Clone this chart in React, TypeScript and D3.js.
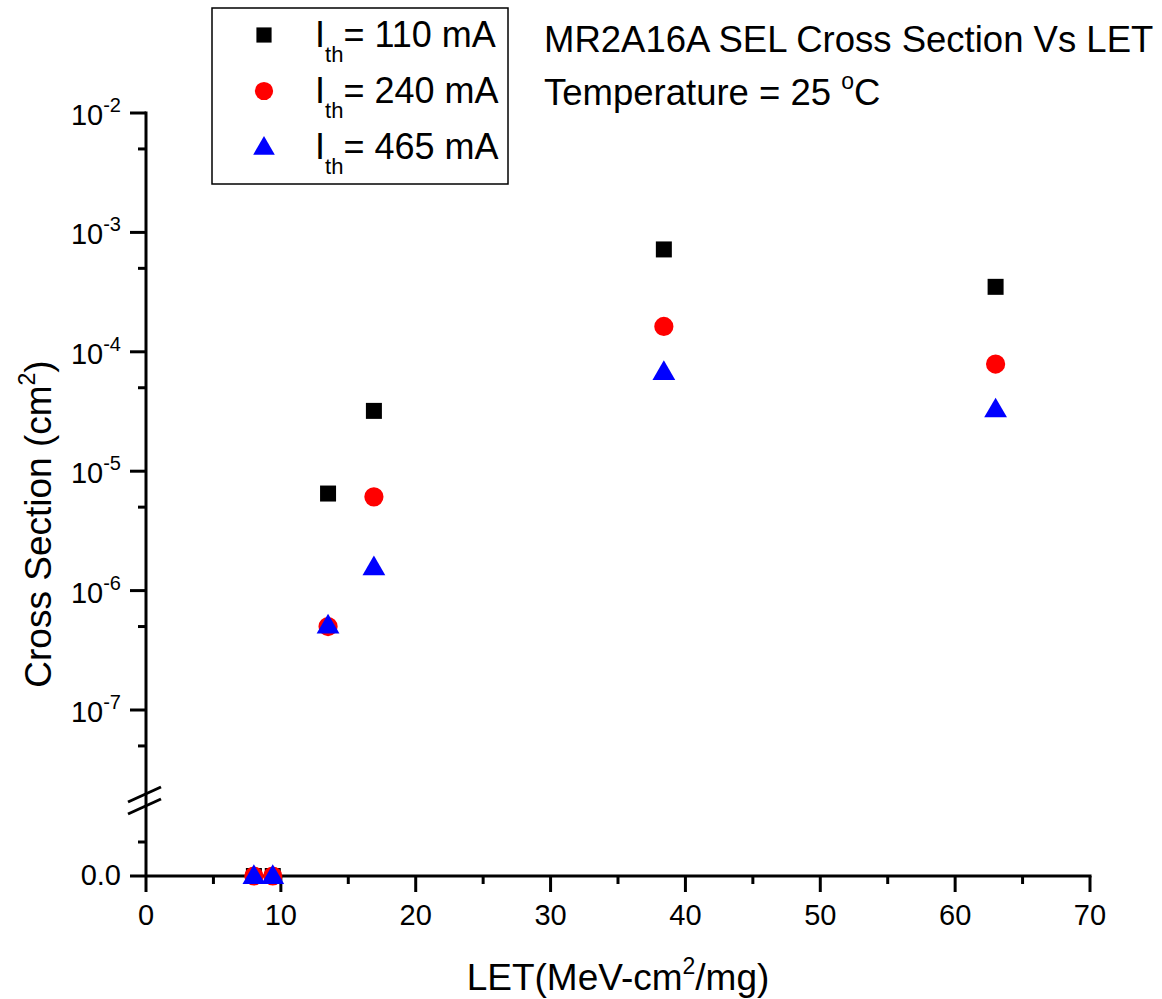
import React, { useEffect, useRef } from 'react';
import * as d3 from 'd3';

// LET values (MeV-cm2/mg)
const letValues = [8, 9.4, 13.5, 16.9, 38.4, 63];
// cross sections (cm2), 0 = no event seen
const cs110 = [0, 0, 6.5e-6, 3.2e-5, 7.2e-4, 3.5e-4];
const cs240 = [0, 0, 5.0e-7, 6.1e-6, 1.63e-4, 7.9e-5];
const cs465 = [0, 0, 5.1e-7, 1.57e-6, 6.8e-5, 3.3e-5];

const seriesNames = ['110', '240', '465'];
const seriesColors = ['#000000', '#ff0000', '#0000ff'];

const xTicks = [0, 10, 20, 30, 40, 50, 60, 70];
const xMinorTicks = [5, 15, 25, 35, 45, 55, 65];
const yExponents = [-2, -3, -4, -5, -6, -7];
const yMinorTicks = [5e-3, 5e-4, 5e-5, 5e-6, 5e-7, 5e-8];

const FONT = '"Liberation Sans", Arial, sans-serif';

const App = () => {
  const ref = useRef<SVGSVGElement>(null);

  useEffect(() => {
    const svg = d3.select(ref.current);
    svg.selectAll('*').remove();

    const x = d3.scaleLinear().domain([0, 70]).range([146, 1090]);
    const yLog = d3.scaleLog().domain([1e-2, 1e-7]).range([113, 710]);
    const yLin = d3.scaleLinear().domain([0, 1]).range([876, 808]);
    const y = (v: number) => (v === 0 ? yLin(0) : yLog(v));

    const g = svg.append('g').attr('font-family', FONT).attr('fill', '#000');

    // axes lines
    g.append('line')
      .attr('x1', x(0)).attr('x2', x(0))
      .attr('y1', yLog(1e-2) - 1.5).attr('y2', yLin(0))
      .attr('stroke', '#000').attr('stroke-width', 3);
    g.append('line')
      .attr('x1', x(0) - 16).attr('x2', x(70) + 1.5)
      .attr('y1', yLin(0)).attr('y2', yLin(0))
      .attr('stroke', '#000').attr('stroke-width', 3);

    // x ticks
    g.selectAll('.xmaj').data(xTicks).enter().append('line')
      .attr('x1', d => x(d)).attr('x2', d => x(d))
      .attr('y1', yLin(0)).attr('y2', yLin(0) + 16)
      .attr('stroke', '#000').attr('stroke-width', 3);
    g.selectAll('.xmin').data(xMinorTicks).enter().append('line')
      .attr('x1', d => x(d)).attr('x2', d => x(d))
      .attr('y1', yLin(0)).attr('y2', yLin(0) + 8)
      .attr('stroke', '#000').attr('stroke-width', 3);
    g.selectAll('.xlab').data(xTicks).enter().append('text')
      .attr('x', d => x(d)).attr('y', 925)
      .attr('text-anchor', 'middle').attr('font-size', 29)
      .text(d => d);

    // y ticks (log part)
    g.selectAll('.ymaj').data(yExponents).enter().append('line')
      .attr('x1', x(0) - 16).attr('x2', x(0))
      .attr('y1', d => yLog(Math.pow(10, d))).attr('y2', d => yLog(Math.pow(10, d)))
      .attr('stroke', '#000').attr('stroke-width', 3);
    g.selectAll('.ymin').data(yMinorTicks).enter().append('line')
      .attr('x1', x(0) - 8).attr('x2', x(0))
      .attr('y1', d => yLog(d)).attr('y2', d => yLog(d))
      .attr('stroke', '#000').attr('stroke-width', 3);
    const ylab = g.selectAll('.ylab').data(yExponents).enter().append('text')
      .attr('x', 121).attr('y', d => yLog(Math.pow(10, d)) + 12)
      .attr('text-anchor', 'end').attr('font-size', 29);
    ylab.append('tspan').text('10');
    ylab.append('tspan').attr('dy', -13).attr('font-size', 20).text(d => `${d}`);

    // y ticks (linear part)
    g.append('line')
      .attr('x1', x(0) - 8).attr('x2', x(0))
      .attr('y1', yLin(0.5)).attr('y2', yLin(0.5))
      .attr('stroke', '#000').attr('stroke-width', 3);
    g.append('text')
      .attr('x', 121).attr('y', yLin(0) + 9)
      .attr('text-anchor', 'end').attr('font-size', 29)
      .text('0.0');

    // axis break marks
    [794, 806].forEach(cy => {
      g.append('line')
        .attr('x1', 128).attr('y1', cy + 8)
        .attr('x2', 161).attr('y2', cy - 7)
        .attr('stroke', '#000').attr('stroke-width', 3);
    });

    // axis titles
    const xt = g.append('text')
      .attr('x', 618).attr('y', 990)
      .attr('text-anchor', 'middle').attr('font-size', 37);
    xt.append('tspan').text('LET(MeV-cm');
    xt.append('tspan').attr('dy', -16).attr('font-size', 23).text('2');
    xt.append('tspan').attr('dy', 16).text('/mg)');

    const yt = g.append('text')
      .attr('transform', 'translate(51,524) rotate(-90)')
      .attr('text-anchor', 'middle').attr('font-size', 37);
    yt.append('tspan').text('Cross Section (cm');
    yt.append('tspan').attr('dy', -16).attr('font-size', 23).text('2');
    yt.append('tspan').attr('dy', 16).text(')');

    // points
    const shapes = [d3.symbolSquare, d3.symbolCircle, d3.symbolTriangle];
    const sizes = [256, 290, 225];
    const allSeries = [cs110, cs240, cs465];
    allSeries.forEach((vals, i) => {
      const sym = d3.symbol().type(shapes[i]).size(sizes[i]);
      g.selectAll(`.pt${i}`).data(vals).enter().append('path')
        .attr('d', sym)
        .attr('transform', (d, j) => `translate(${x(letValues[j])},${y(d) + (i === 2 ? 1.5 : 0)})`)
        .attr('fill', seriesColors[i]);
    });

    // legend
    g.append('rect')
      .attr('x', 212).attr('y', 8).attr('width', 296).attr('height', 176)
      .attr('fill', 'none').attr('stroke', '#000').attr('stroke-width', 1.5);
    seriesNames.forEach((name, i) => {
      const cy = 35 + i * 56;
      g.append('path')
        .attr('d', d3.symbol().type(shapes[i]).size(sizes[i] * 0.9)())
        .attr('transform', `translate(264,${cy + (i === 2 ? 1.5 : 0)})`)
        .attr('fill', seriesColors[i]);
      const t = g.append('text').attr('x', 315).attr('y', cy + 12).attr('font-size', 36);
      t.append('tspan').text('I');
      t.append('tspan').attr('dy', 15).attr('font-size', 22).text('th');
      t.append('tspan').attr('dy', -15).text(`= ${name} mA`);
    });

    // title text
    g.append('text').attr('x', 544).attr('y', 52).attr('font-size', 36.5)
      .text('MR2A16A SEL Cross Section Vs LET');
    const tt = g.append('text').attr('x', 544).attr('y', 105).attr('font-size', 36.5);
    tt.append('tspan').text('Temperature = 25 ');
    tt.append('tspan').attr('dy', -16).attr('font-size', 23).text('o');
    tt.append('tspan').attr('dy', 16).text('C');
  }, []);

  return (
    <svg
      ref={ref}
      width={1162}
      height={999}
      style={{ position: 'absolute', left: 0, top: 0, background: '#fff' }}
    />
  );
};

export default App;
